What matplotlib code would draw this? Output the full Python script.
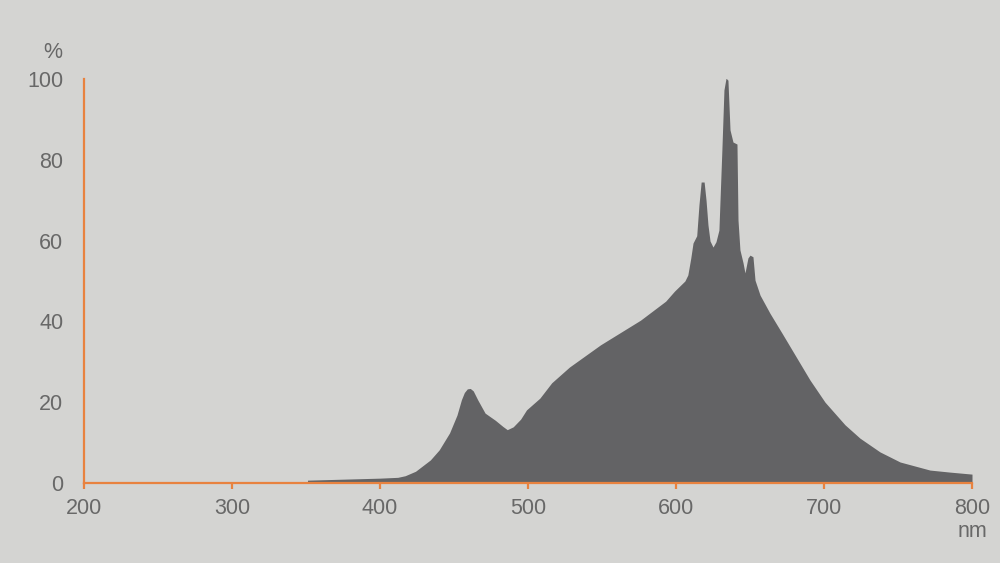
import numpy as np
import matplotlib.pyplot as plt

# Spectrum (wavelength in nm, relative intensity in %)
wavelength = [351, 400, 412, 417, 424, 434, 440, 447, 452, 455, 457, 459, 461, 463, 466, 471,
              478, 483, 486, 490, 495, 499, 508, 516, 528, 549, 576, 593, 599, 606, 608, 610,
              611.5, 614, 615.5, 617, 619, 620.3, 621.6, 623, 625, 627, 629, 631, 632.4,
              633.8, 635.1, 636.5, 638.5, 641.2, 641.9, 643.2, 645.3, 646.6, 648.6, 650,
              652, 653.4, 656.8, 663.5, 671.6, 680.4, 690.5, 700.7, 714.2, 724.3, 737.8,
              751.4, 771.6, 785, 800]
intensity = [0.7, 1.2, 1.4, 1.8, 2.9, 5.7, 8.2, 12.4, 16.8, 20.6, 22.4, 23.3, 23.4, 22.8,
             20.6, 17.3, 15.5, 14.0, 13.2, 13.9, 15.8, 18.1, 21, 24.8, 28.7, 34.2, 40.3, 45,
             47.5, 50, 51.5, 55.7, 59.4, 61.2, 68.8, 74.5, 74.5, 70, 63.9, 59.9, 58.4, 59.7,
             62.6, 82.4, 97.3, 100.2, 99.7, 87.4, 84.4, 83.9, 65.1, 57.7, 54.5, 52, 55.7,
             56.4, 56, 50.2, 46.5, 42, 37.1, 31.7, 25.5, 20, 14.4, 11.1, 7.7, 5.2, 3.2,
             2.7, 2.2]

x_ticks = [200, 300, 400, 500, 600, 700, 800]
y_ticks = [0, 20, 40, 60, 80, 100]

bg = '#d4d4d2'
orange = '#e8823f'
text_col = '#686868'
fs = 15.5

plt.rcParams['font.family'] = ['Liberation Sans', 'DejaVu Sans']

fig = plt.figure(figsize=(10, 5.63), dpi=100, facecolor=bg)
ax = fig.add_axes([0.084, 0.1421, 0.888, 0.7176], facecolor=bg)

ax.fill_between(wavelength, 0, intensity, color='#636365', lw=0)

ax.set_xlim(200, 800)
ax.set_ylim(0, 100)
ax.set_xticks(x_ticks)
ax.set_yticks(y_ticks)

for s in ['top', 'right']:
    ax.spines[s].set_visible(False)
for s in ['left', 'bottom']:
    ax.spines[s].set_color(orange)
    ax.spines[s].set_linewidth(1.6)
ax.spines['bottom'].set_zorder(5)

ax.tick_params(axis='x', direction='out', length=4, width=1.6, color=orange,
               labelsize=fs, labelcolor=text_col, pad=7)
ax.tick_params(axis='y', length=0, labelsize=fs, labelcolor=text_col, pad=15)

ax.text(0.053, 0.907, '%', transform=fig.transFigure, fontsize=fs,
        color=text_col, ha='center', va='center')
ax.text(0.972, 0.0746, 'nm', transform=fig.transFigure, fontsize=fs,
        color=text_col, ha='center', va='top')

fig.savefig('out.png', dpi=100, facecolor=bg)
